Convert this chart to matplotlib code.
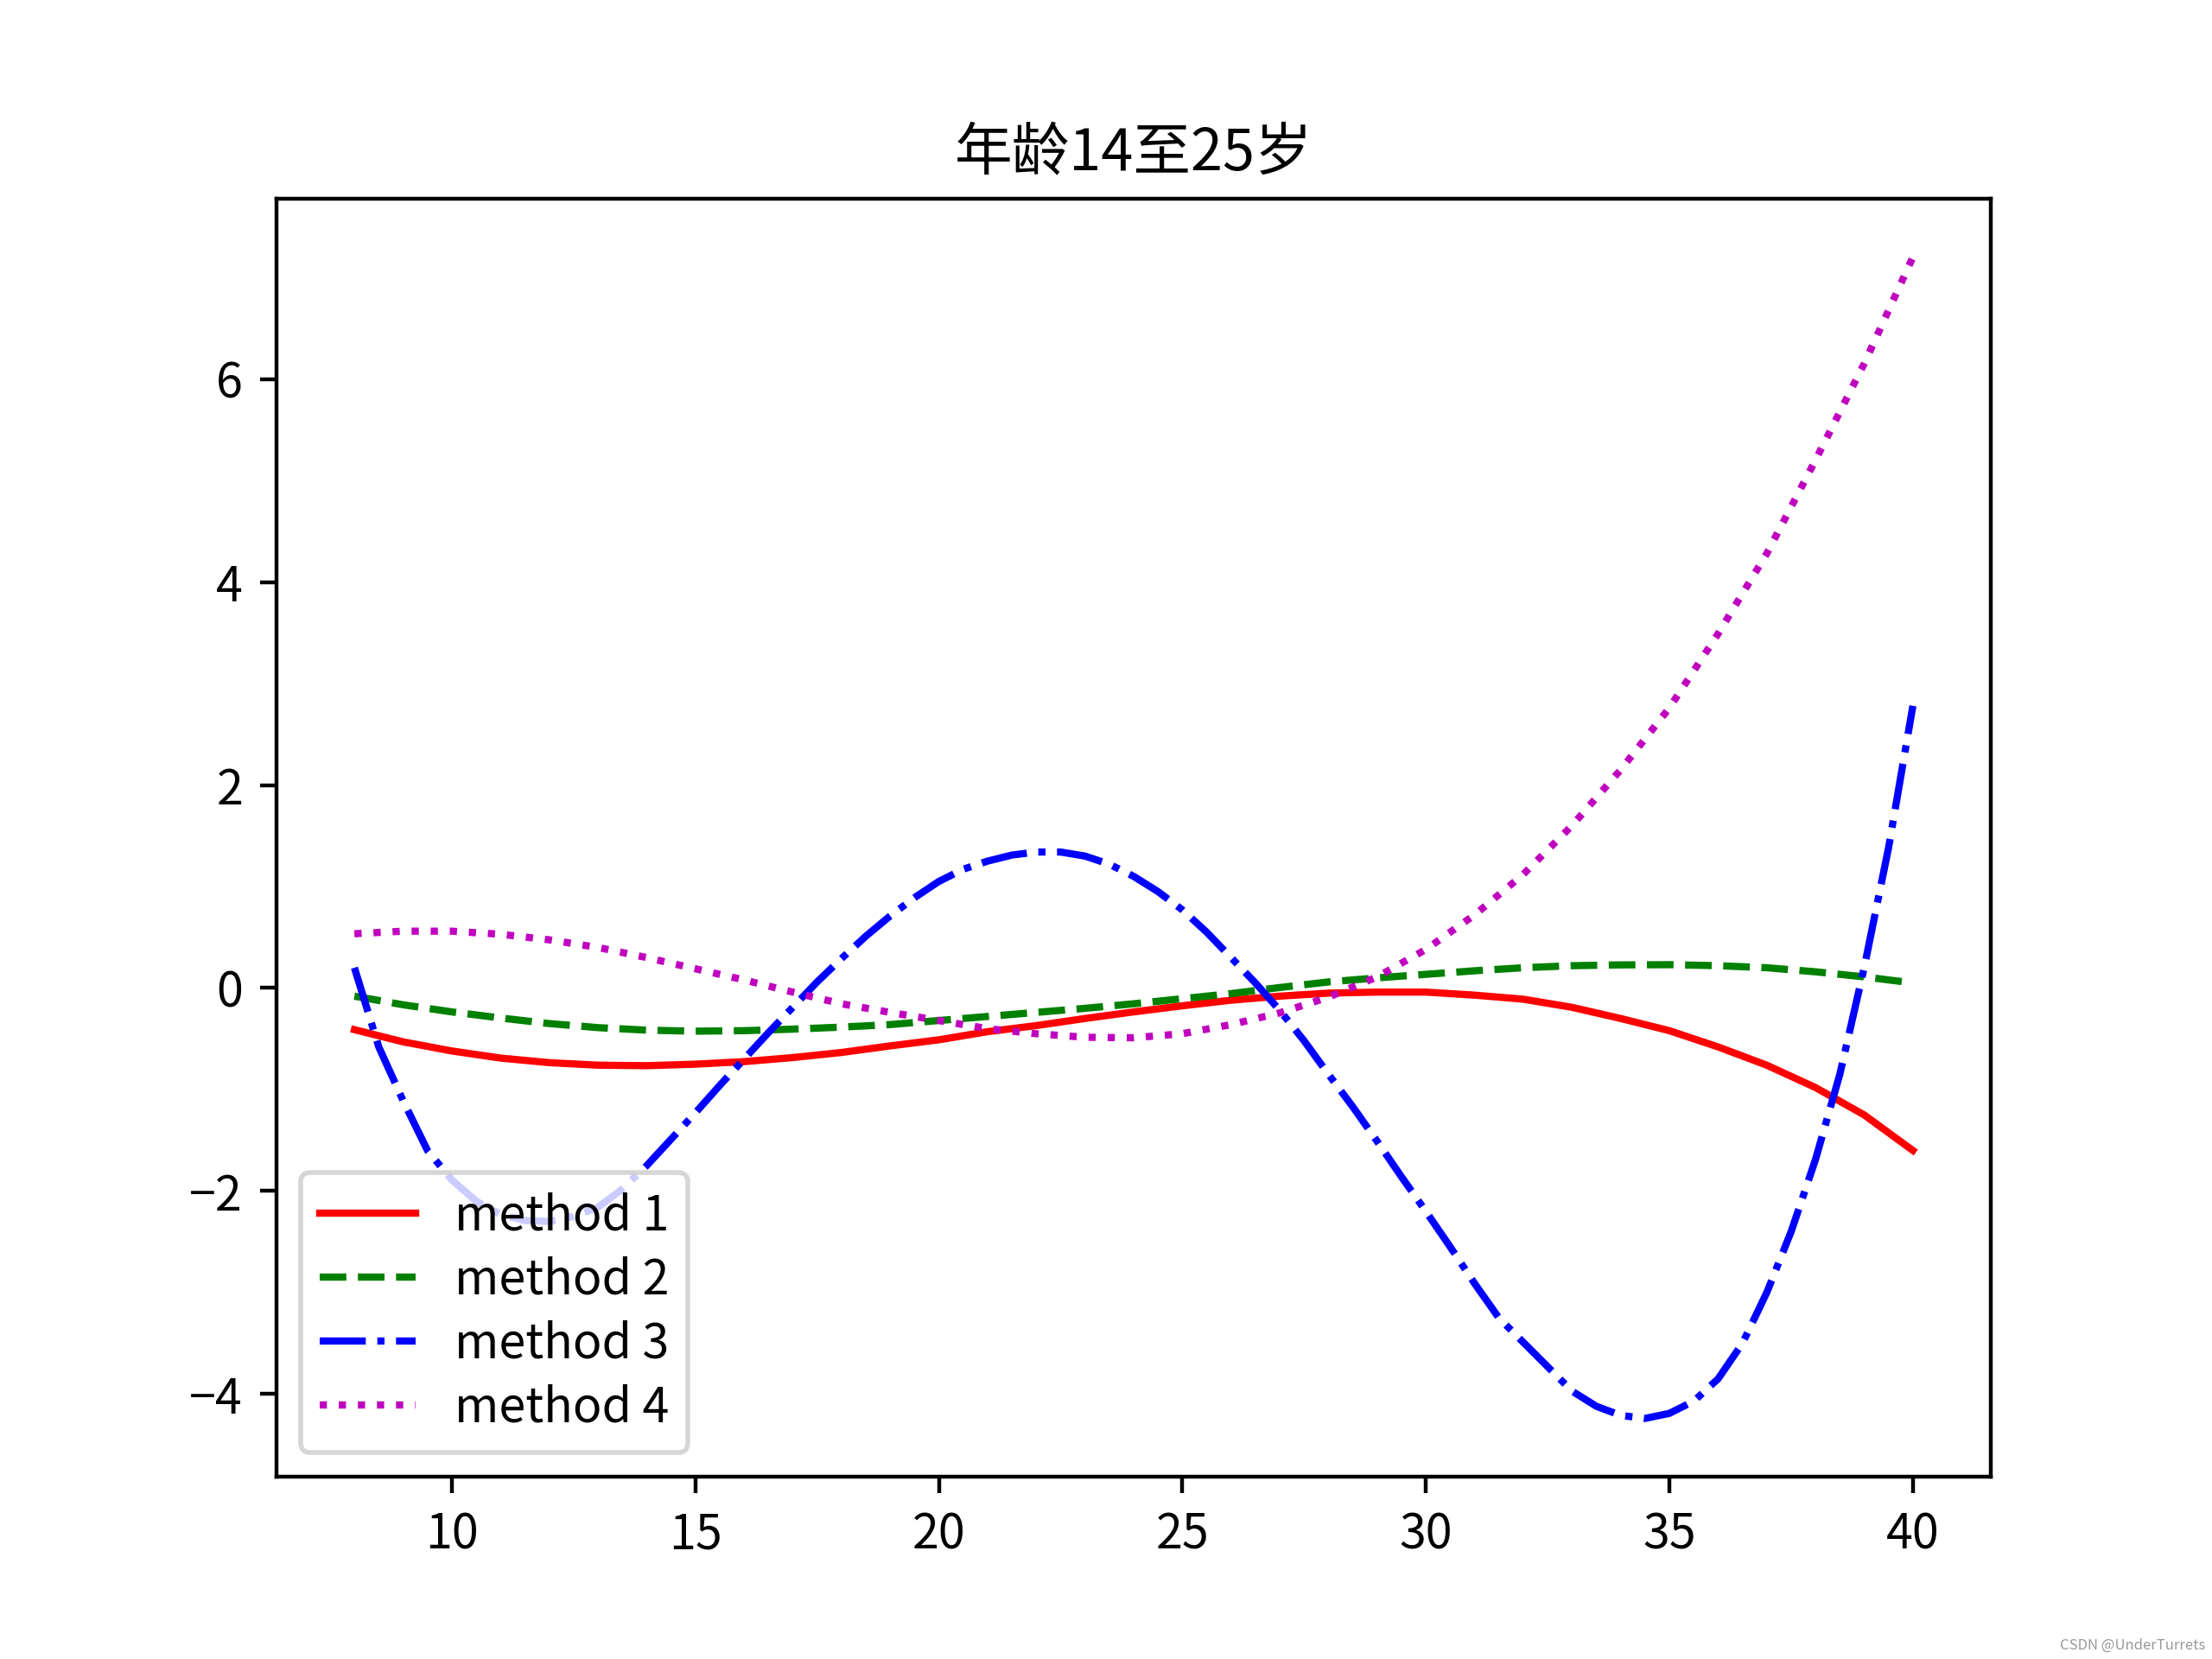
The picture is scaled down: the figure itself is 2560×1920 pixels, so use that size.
import matplotlib
matplotlib.use("Agg")
import matplotlib.pyplot as plt

plt.rcParams['font.family'] = ['Noto Sans CJK SC', 'DejaVu Sans']

x = [8, 9, 10, 11, 12, 13, 14, 15, 16, 17, 18, 19, 20, 21, 22, 23, 24,
     25, 26, 27, 28, 29, 30, 31, 32, 33, 34, 35, 36, 37, 38, 39, 40]

# method 3 bends sharply, so it was read every half unit
x3 = [8.0, 8.5, 9.0, 9.5, 10.0, 10.5, 11.0, 11.5, 12.0, 12.5, 13.0, 13.5,
      14.0, 14.5, 15.0, 15.5, 16.0, 16.5, 17.0, 17.5, 18.0, 18.5, 19.0,
      19.5, 20.0, 20.5, 21.0, 21.5, 22.0, 22.5, 23.0, 23.5, 24.0, 24.5,
      25.0, 25.5, 26.0, 26.5, 27.0, 27.5, 28.0, 28.5, 29.0, 29.5, 30.0,
      30.5, 31.0, 31.5, 32.0, 32.5, 33.0, 33.5, 34.0, 34.5, 35.0, 35.5,
      36.0, 36.5, 37.0, 37.5, 38.0, 38.5, 39.0, 39.5, 40.0]

method1 = [-0.41, -0.53, -0.62, -0.69, -0.735, -0.76, -0.765, -0.75, -0.725,
           -0.685, -0.635, -0.57, -0.51, -0.43, -0.37, -0.30, -0.235, -0.175,
           -0.12, -0.08, -0.05, -0.04, -0.04, -0.07, -0.11, -0.19, -0.30,
           -0.42, -0.58, -0.76, -0.98, -1.25, -1.60]

method2 = [-0.08, -0.165, -0.235, -0.295, -0.35, -0.39, -0.415, -0.425, -0.42,
           -0.405, -0.385, -0.36, -0.32, -0.28, -0.24, -0.20, -0.155, -0.105,
           -0.055, 0.005, 0.06, 0.10, 0.135, 0.17, 0.20, 0.22, 0.228, 0.23,
           0.22, 0.20, 0.16, 0.11, 0.05]

method3 = [0.20, -0.58, -1.11, -1.60, -1.89, -2.10, -2.23, -2.29, -2.30,
           -2.25, -2.16, -1.98, -1.75, -1.49, -1.23, -0.96, -0.70, -0.44,
           -0.19, 0.06, 0.29, 0.51, 0.71, 0.89, 1.05, 1.17, 1.25, 1.31, 1.34,
           1.34, 1.30, 1.22, 1.10, 0.95, 0.77, 0.55, 0.30, 0.05, -0.22, -0.52,
           -0.85, -1.17, -1.51, -1.86, -2.20, -2.55, -2.91, -3.25, -3.49,
           -3.73, -3.97, -4.12, -4.21, -4.24, -4.19, -4.07, -3.85, -3.50,
           -3.00, -2.40, -1.69, -0.85, 0.20, 1.38, 2.78]

method4 = [0.535, 0.56, 0.56, 0.53, 0.475, 0.40, 0.30, 0.19, 0.08, -0.04,
           -0.155, -0.24, -0.32, -0.40, -0.45, -0.485, -0.49, -0.45, -0.36,
           -0.245, -0.09, 0.11, 0.38, 0.72, 1.12, 1.60, 2.15, 2.76, 3.49,
           4.28, 5.20, 6.15, 7.20]

fig = plt.figure(figsize=(6.4, 4.8), dpi=400)
plt.plot(x, method1, 'r-', label='method 1')
plt.plot(x, method2, 'g--', label='method 2')
plt.plot(x3, method3, 'b-.', label='method 3')
plt.plot(x, method4, 'm:', label='method 4')
plt.title('年龄14至25岁')
# CJK font is taller than the original's, so tighten the rows a bit
plt.legend(loc='lower left', labelspacing=0.3)

fig.text(0.997, 0.004, 'CSDN @UnderTurrets', ha='right', va='bottom',
         fontsize=3, color='#999999')

plt.savefig('out.png', dpi=400)
